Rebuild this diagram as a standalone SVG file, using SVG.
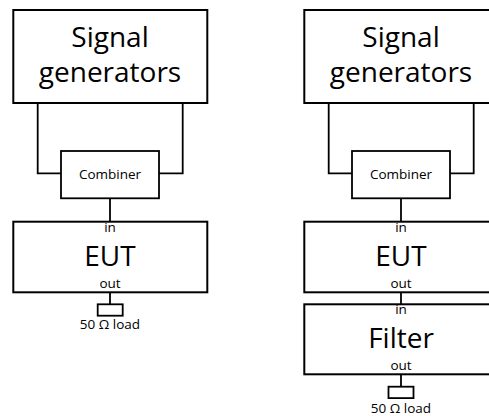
<svg xmlns="http://www.w3.org/2000/svg" width="489" height="416" viewBox="0 0 489 416">
<style>
.box{fill:#fff;stroke:#000;stroke-width:2}
.sm{fill:#fff;stroke:#000;stroke-width:1.8}
.ln{fill:none;stroke:#000;stroke-width:1.8}
text{font-family:"Open Sans","DejaVu Sans",sans-serif;fill:#000;text-anchor:middle}
.big{font-size:28px}
.lab{font-size:13.5px}
</style>
<defs>
<clipPath id="page"><rect x="0" y="0" width="489" height="416"/></clipPath>
</defs>
<rect width="489" height="416" fill="#fff"/>
<g clip-path="url(#page)">
<g id="connectors">
<polyline class="ln" points="37.7,103 37.7,173.3 61,173.3"/>
<polyline class="ln" points="182.7,103 182.7,173.3 159,173.3"/>
<line class="ln" x1="110" y1="198.3" x2="110" y2="221.7"/>
<line class="ln" x1="110" y1="292.3" x2="110" y2="304.3"/>
<polyline class="ln" points="328.7,103 328.7,173.3 352,173.3"/>
<polyline class="ln" points="473.7,103 473.7,173.3 450,173.3"/>
<line class="ln" x1="401" y1="198.3" x2="401" y2="221.7"/>
<line class="ln" x1="401" y1="292.3" x2="401" y2="304.3"/>
<line class="ln" x1="401" y1="374.3" x2="401" y2="386.7"/>
</g>
<g id="siggen1">
<rect class="box" x="13.3" y="10" width="194" height="93"/>
<text class="big" x="110" y="46.7">Signal</text>
<text class="big" x="110" y="81.7">generators</text>
</g>
<g id="combiner1">
<rect class="sm" x="61" y="151" width="98" height="47.3"/>
<text class="lab" x="110" y="179.3">Combiner</text>
</g>
<g id="eut1">
<rect class="box" x="13.3" y="221.7" width="194" height="70.6"/>
<text class="lab" x="110" y="232.3">in</text>
<text class="big" x="110" y="266">EUT</text>
<text class="lab" x="110" y="288.3">out</text>
</g>
<g id="load1">
<rect class="sm" x="97.7" y="304.3" width="25" height="11.4"/>
<text class="lab" x="110" y="329">50 Ω load</text>
</g>
<g id="siggen2">
<rect class="box" x="304.3" y="10" width="194" height="93"/>
<text class="big" x="401" y="46.7">Signal</text>
<text class="big" x="401" y="81.7">generators</text>
</g>
<g id="combiner2">
<rect class="sm" x="352" y="151" width="98" height="47.3"/>
<text class="lab" x="401" y="179.3">Combiner</text>
</g>
<g id="eut2">
<rect class="box" x="304.3" y="221.7" width="194" height="70.6"/>
<text class="lab" x="401" y="232.3">in</text>
<text class="big" x="401" y="266">EUT</text>
<text class="lab" x="401" y="288.3">out</text>
</g>
<g id="filter2">
<rect class="box" x="304.3" y="304.3" width="194" height="70"/>
<text class="lab" x="401" y="314.3">in</text>
<text class="big" x="401" y="347.7">Filter</text>
<text class="lab" x="401" y="370">out</text>
</g>
<g id="load2">
<rect class="sm" x="388.5" y="386.7" width="25" height="11.4"/>
<text class="lab" x="401" y="412.5">50 Ω load</text>
</g>
</g>
</svg>
